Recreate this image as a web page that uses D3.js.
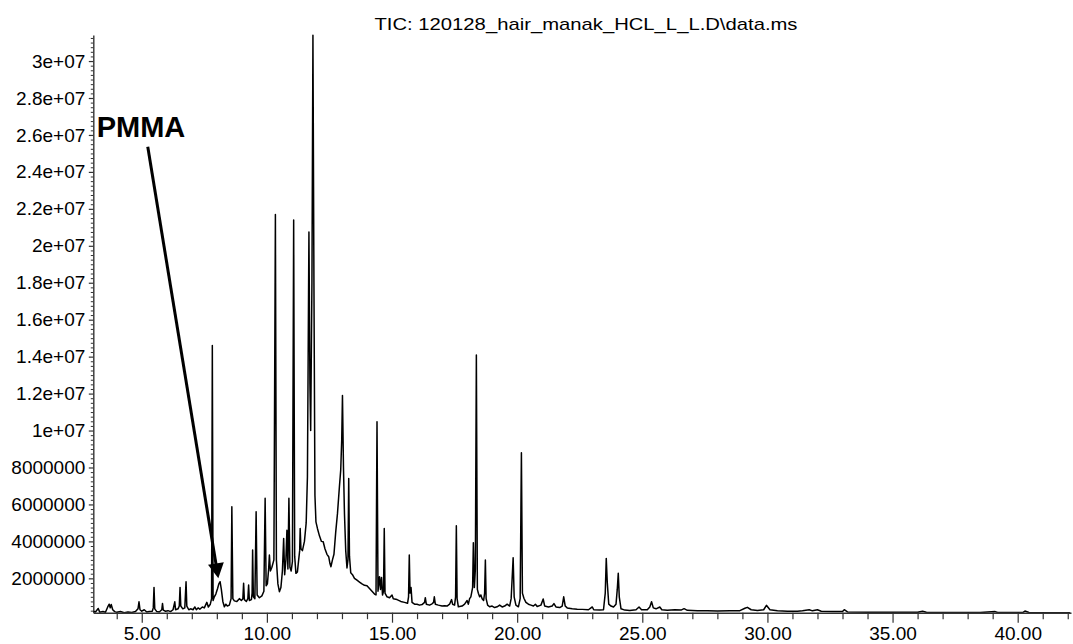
<!DOCTYPE html>
<html>
<head>
<meta charset="utf-8">
<script src="https://cdn.jsdelivr.net/npm/d3@7"></script>
<style>
  body { margin: 0; background: #fff; }
  text { font-family: "Liberation Sans", Arial, sans-serif; fill: #000; }
</style>
</head>
<body>
<div id="chart"></div>
<script>
// retention time (min) and abundance (millions of counts)
var rt = [3.06,3.15,3.26,3.32,3.45,3.55,3.64,3.7,3.74,3.78,3.84,3.92,4.0,4.15,4.3,4.45,4.6,4.75,4.85,4.89,4.93,5.0,5.1,5.2,5.3,5.42,5.46,5.49,5.52,5.6,5.7,5.8,5.83,5.86,5.95,6.05,6.15,6.25,6.32,6.35,6.45,6.5,6.53,6.56,6.64,6.72,6.77,6.8,6.88,6.95,7.05,7.12,7.18,7.25,7.32,7.42,7.5,7.6,7.66,7.74,7.79,7.82,7.85,7.9,7.96,8.03,8.08,8.13,8.18,8.24,8.3,8.36,8.42,8.5,8.57,8.6,8.64,8.7,8.8,8.9,8.98,9.04,9.07,9.1,9.18,9.24,9.27,9.3,9.38,9.41,9.43,9.46,9.52,9.57,9.61,9.7,9.8,9.88,9.93,9.97,10.02,10.07,10.1,10.14,10.2,10.28,10.34,10.38,10.44,10.5,10.56,10.62,10.67,10.71,10.76,10.8,10.84,10.88,10.92,10.97,11.02,11.07,11.11,11.16,11.22,11.27,11.31,11.33,11.36,11.42,11.5,11.57,11.62,11.68,11.72,11.75,11.8,11.84,11.88,11.92,11.96,12.02,12.1,12.18,12.25,12.32,12.4,12.47,12.52,12.56,12.62,12.68,12.75,12.82,12.9,12.95,12.99,13.02,13.06,13.1,13.15,13.2,13.24,13.27,13.3,13.35,13.42,13.5,13.6,13.7,13.8,13.9,14.0,14.1,14.2,14.3,14.36,14.4,14.44,14.5,14.54,14.58,14.62,14.66,14.69,14.72,14.8,14.9,15.0,15.05,15.2,15.35,15.5,15.62,15.66,15.69,15.72,15.76,15.8,15.9,16.0,16.1,16.2,16.3,16.33,16.37,16.5,16.6,16.66,16.69,16.73,16.85,17.0,17.1,17.2,17.3,17.38,17.42,17.5,17.54,17.57,17.6,17.65,17.8,17.9,18.0,18.05,18.1,18.15,18.22,18.25,18.29,18.33,18.37,18.41,18.45,18.5,18.55,18.6,18.66,18.7,18.73,18.76,18.82,18.9,19.0,19.1,19.2,19.3,19.4,19.5,19.6,19.7,19.76,19.8,19.84,19.88,19.95,20.05,20.12,20.17,20.21,20.27,20.35,20.45,20.55,20.65,20.73,20.8,20.95,21.04,21.1,21.25,21.4,21.47,21.55,21.7,21.8,21.86,21.92,22.0,22.2,22.4,22.6,22.85,22.95,23.0,23.06,23.3,23.45,23.52,23.56,23.6,23.66,23.75,23.85,23.95,24.0,24.04,24.08,24.15,24.3,24.5,24.75,24.87,24.97,25.2,25.3,25.37,25.44,25.55,25.7,25.78,26.0,26.3,26.55,26.67,26.8,27.2,27.6,28.0,28.5,28.9,29.1,29.2,29.35,29.6,29.85,29.96,30.1,30.4,30.8,31.2,31.4,31.67,31.8,32.0,32.15,32.6,33.0,33.07,33.2,34.0,35.0,36.0,36.2,36.35,37.5,38.5,39.1,39.2,40.2,40.29,40.45,41.0,42.1];
var tic = [0.22,0.18,0.37,0.17,0.2,0.16,0.45,0.6,0.4,0.58,0.3,0.2,0.16,0.2,0.14,0.18,0.15,0.2,0.35,0.73,0.3,0.22,0.3,0.18,0.2,0.22,0.4,1.51,0.35,0.2,0.18,0.3,0.64,0.28,0.22,0.25,0.2,0.3,0.73,0.3,0.35,0.5,1.51,0.5,0.35,0.4,1.82,0.5,0.3,0.35,0.3,0.45,0.3,0.4,0.33,0.45,0.4,0.7,0.45,0.6,0.9,14.6,0.8,1.0,1.15,1.45,1.7,1.82,1.4,0.75,0.46,0.6,0.5,0.55,0.9,5.87,0.9,0.78,0.75,0.9,0.8,0.9,1.73,0.85,0.75,0.9,1.64,0.8,0.85,1.2,3.53,1.0,0.9,5.6,1.1,0.95,1.05,1.3,6.33,1.6,1.7,2.5,3.26,2.4,2.6,3.0,21.7,3.0,1.7,1.28,1.5,2.4,4.16,2.2,3.0,4.6,2.5,6.33,2.6,2.4,2.9,21.4,3.2,2.27,2.35,3.0,3.5,4.7,3.6,3.5,4.0,5.0,7.5,20.75,12.5,10.0,18.0,31.4,18.0,6.5,5.06,4.7,4.3,4.0,3.98,3.6,3.3,3.17,2.8,2.63,3.0,3.3,4.5,5.5,7.0,7.86,9.5,11.9,8.0,5.5,3.5,2.56,3.0,7.4,3.2,2.3,2.2,2.0,1.9,1.8,1.7,1.62,1.6,1.45,1.3,1.15,1.1,10.48,1.3,2.09,1.4,2.05,1.1,1.3,4.7,1.2,1.0,0.95,1.1,0.9,0.85,0.75,0.7,0.65,1.0,3.26,1.2,1.5,0.7,0.6,0.6,0.55,0.58,0.7,0.95,0.6,0.55,0.62,0.7,1.0,0.6,0.55,0.5,0.52,0.5,0.6,0.85,0.6,0.55,1.0,4.85,0.9,0.46,0.5,0.6,0.8,0.6,0.9,1.0,1.5,3.93,1.5,2.5,14.09,1.4,1.19,1.0,1.1,0.9,0.8,1.2,2.99,0.9,0.55,0.46,0.5,0.42,0.46,0.55,0.45,0.5,0.6,0.5,0.9,2.0,3.12,1.0,0.55,0.46,0.9,8.8,1.2,0.92,0.7,0.6,0.55,0.5,0.6,0.48,0.55,0.88,0.5,0.45,0.5,0.63,0.45,0.42,0.5,1.0,0.5,0.4,0.35,0.33,0.32,0.3,0.4,0.45,0.3,0.28,0.3,1.2,3.08,1.8,0.6,0.5,0.45,0.6,1.4,2.27,1.0,0.35,0.28,0.26,0.3,0.45,0.3,0.3,0.45,0.73,0.4,0.35,0.45,0.3,0.27,0.3,0.28,0.36,0.27,0.25,0.24,0.23,0.24,0.25,0.38,0.43,0.3,0.26,0.3,0.54,0.3,0.24,0.22,0.22,0.25,0.3,0.24,0.3,0.22,0.2,0.2,0.3,0.18,0.17,0.16,0.16,0.22,0.16,0.15,0.15,0.2,0.15,0.15,0.23,0.15,0.14,0.14];

var xMajorTicks = [5, 10, 15, 20, 25, 30, 35, 40];
var xTickLabels = ["5.00", "10.00", "15.00", "20.00", "25.00", "30.00", "35.00", "40.00"];
var yTickValues = [2, 4, 6, 8, 10, 12, 14, 16, 18, 20, 22, 24, 26, 28, 30];
var yTickLabels = ["2000000", "4000000", "6000000", "8000000", "1e+07", "1.2e+07", "1.4e+07", "1.6e+07",
  "1.8e+07", "2e+07", "2.2e+07", "2.4e+07", "2.6e+07", "2.8e+07", "3e+07"];

var title = "TIC: 120128_hair_manak_HCL_L_L.D\\data.ms";
var pmmaLabel = "PMMA";
var pmmaText = [3.2, 25.9];       // label anchor (min, millions)
var pmmaArrow = [[5.24, 25.36], [8.06, 2.0]];  // tail -> tip

var svgWidth = 1073;
var svgHeight = 644;
var plot = { left: 93.3, right: 1071, top: 35, bottom: 612.7 };

var svg = d3.select("#chart").append("svg")
  .attr("width", svgWidth)
  .attr("height", svgHeight);

var x = d3.scaleLinear().domain([3.064, 42.13]).range([plot.left, plot.right]);
var y = d3.scaleLinear().domain([0.14, 31.41]).range([plot.bottom, plot.top]);

// minor ticks
var xMinor = d3.range(4, 43, 1).filter(d => xMajorTicks.indexOf(d) < 0);
var yMinor = d3.range(0.25, 31.4, 0.25).filter(d => yTickValues.indexOf(d) < 0);

svg.append("g")
  .attr("transform", `translate(0, ${plot.bottom})`)
  .call(d3.axisBottom(x).tickValues(xMinor).tickSize(6.5).tickFormat("").tickSizeOuter(0))
  .call(g => g.select(".domain").remove())
  .selectAll("line").attr("stroke", "#333").attr("stroke-width", 1.2);

svg.append("g")
  .attr("transform", `translate(${plot.left}, 0)`)
  .call(d3.axisLeft(y).tickValues(yMinor).tickSize(2.5).tickFormat("").tickSizeOuter(0))
  .call(g => g.select(".domain").remove())
  .selectAll("line").attr("stroke", "#333").attr("stroke-width", 1);

var xAxis = svg.append("g")
  .attr("transform", `translate(0, ${plot.bottom})`)
  .call(d3.axisBottom(x)
    .tickValues(xMajorTicks)
    .tickFormat((d, i) => xTickLabels[i])
    .tickSize(10).tickPadding(4).tickSizeOuter(0));

var yAxis = svg.append("g")
  .attr("transform", `translate(${plot.left}, 0)`)
  .call(d3.axisLeft(y)
    .tickValues(yTickValues)
    .tickFormat((d, i) => yTickLabels[i])
    .tickSize(4.5).tickPadding(3.5).tickSizeOuter(0));

[xAxis, yAxis].forEach(function(g) {
  g.select(".domain").attr("stroke", "#333").attr("stroke-width", 1.4);
  g.selectAll(".tick line").attr("stroke", "#333").attr("stroke-width", 1.2);
  g.selectAll("text")
    .attr("fill", "#000")
    .style("font-family", '"Liberation Sans", Arial, sans-serif')
    .style("font-size", "19px");
});

// the trace
var line = d3.line()
  .x((d, i) => x(rt[i]))
  .y(d => y(d));

svg.append("clipPath").attr("id", "clip")
  .append("rect")
  .attr("x", plot.left).attr("y", plot.top - 1)
  .attr("width", plot.right - plot.left).attr("height", plot.bottom - plot.top + 1);

svg.append("path")
  .datum(tic)
  .attr("clip-path", "url(#clip)")
  .attr("fill", "none")
  .attr("stroke", "#000")
  .attr("stroke-width", 1.5)
  .attr("stroke-linejoin", "round")
  .attr("d", line);

// title
svg.append("text")
  .attr("x", 586)
  .attr("y", 30)
  .attr("text-anchor", "middle")
  .attr("textLength", 423)
  .attr("lengthAdjust", "spacingAndGlyphs")
  .style("font-size", "17px")
  .text(title);

// PMMA annotation
svg.append("text")
  .attr("x", x(pmmaText[0]))
  .attr("y", y(pmmaText[1]))
  .style("font-size", "29px")
  .style("font-weight", "bold")
  .text(pmmaLabel);

var x0 = x(pmmaArrow[0][0]), y0 = y(pmmaArrow[0][1]);
var x1 = x(pmmaArrow[1][0]), y1 = y(pmmaArrow[1][1]);
var len = Math.hypot(x1 - x0, y1 - y0);
var ux = (x1 - x0) / len, uy = (y1 - y0) / len;
var headLen = 15, headHalf = 8;
var bx = x1 - ux * headLen, by = y1 - uy * headLen;

svg.append("line")
  .attr("x1", x0).attr("y1", y0)
  .attr("x2", bx + ux * 2).attr("y2", by + uy * 2)
  .attr("stroke", "#000")
  .attr("stroke-width", 3);

svg.append("path")
  .attr("d", `M${x1},${y1}L${bx + uy * headHalf},${by - ux * headHalf}L${bx - uy * headHalf},${by + ux * headHalf}Z`)
  .attr("fill", "#000");
</script>
</body>
</html>
